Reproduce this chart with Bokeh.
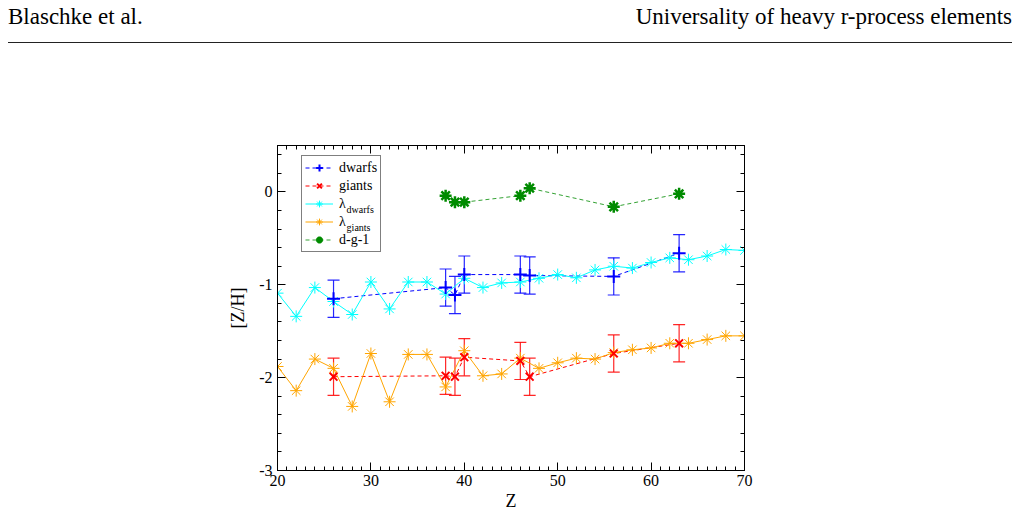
from bokeh.plotting import figure
from bokeh.models import (ColumnDataSource, Whisker, TeeHead, Legend, LegendItem,
                          Label, LinearAxis, SingleIntervalTicker, Range1d, Div,
                          CustomLabelingPolicy)
from bokeh.layouts import column
from bokeh.embed import file_html
from bokeh.resources import INLINE

# Observed abundances (dwarfs / giants) with 1-sigma errors
z_obs = [26, 38, 39, 40, 46, 47, 56, 63]
dwarfs = [-1.15, -1.03, -1.11, -0.89, -0.89, -0.90, -0.91, -0.66]
dwarfs_err = [0.2, 0.2, 0.2, 0.2, 0.2, 0.2, 0.2, 0.2]
giants = [-1.99, -1.98, -1.99, -1.78, -1.82, -1.99, -1.74, -1.63]
giants_err = [0.2, 0.2, 0.2, 0.2, 0.2, 0.2, 0.2, 0.2]

# Model abundance patterns (even Z)
z_lambda = [20, 22, 24, 26, 28, 30, 32, 34, 36, 38, 40, 42, 44, 46, 48,
            50, 52, 54, 56, 58, 60, 62, 64, 66, 68, 70]
lambda_dwarfs = [-1.09, -1.34, -1.03, -1.18, -1.32, -0.97, -1.26, -0.97, -0.97, -1.10,
                 -0.93, -1.03, -0.98, -0.97, -0.93, -0.89, -0.925, -0.84, -0.80, -0.82,
                 -0.76, -0.71, -0.73, -0.69, -0.62, -0.63]
lambda_giants = [-1.88, -2.14, -1.80, -1.90, -2.31, -1.74, -2.26, -1.75, -1.75, -2.10,
                 -1.71, -1.98, -1.96, -1.79, -1.90, -1.84, -1.79, -1.80, -1.73, -1.70,
                 -1.68, -1.63, -1.63, -1.59, -1.55, -1.55]

# Dwarf minus giant difference
z_dg1 = [38, 39, 40, 46, 47, 56, 63]
dg1 = [-0.04, -0.11, -0.11, -0.04, 0.04, -0.16, -0.02]

SERIF = "Liberation Serif"

p = figure(width=1018, height=463, x_range=Range1d(20, 70), y_range=Range1d(-3, 0.5),
           output_backend="svg", toolbar_location=None,
           min_border_left=277, min_border_right=274, min_border_top=95, min_border_bottom=42,
           x_axis_label="Z", y_axis_label="[Z/H]")
p.margin = 0
p.xgrid.grid_line_color = None
p.ygrid.grid_line_color = None
p.outline_line_color = "black"
p.background_fill_color = "white"
p.border_fill_color = "white"

# mirrored axes carry tick marks only
no_labels = CustomLabelingPolicy(code="for (const i of indices) indices.unset(i); return indices")


def style_axis(ax, ticker, show_labels=True):
    ax.ticker = ticker
    ax.axis_line_color = "black"
    ax.major_tick_line_color = "black"
    ax.minor_tick_line_color = "black"
    ax.major_tick_in = 8
    ax.major_tick_out = 0
    ax.minor_tick_in = 4
    ax.minor_tick_out = 0
    ax.major_label_text_font = SERIF
    ax.major_label_text_color = "black"
    ax.axis_label_text_font = SERIF
    ax.axis_label_text_font_style = "normal"
    ax.axis_label_text_color = "black"
    ax.major_label_text_font_size = "16px"
    ax.axis_label_text_font_size = "18px"
    if not show_labels:
        ax.major_label_policy = no_labels


style_axis(p.xaxis[0], SingleIntervalTicker(interval=10, num_minor_ticks=10))
style_axis(p.yaxis[0], SingleIntervalTicker(interval=1, num_minor_ticks=5))
p.xaxis[0].major_label_standoff = 4
p.xaxis[0].axis_label_standoff = 2
p.yaxis[0].major_label_standoff = 5
p.yaxis[0].axis_label_standoff = 8
p.yaxis[0].major_label_overrides = {0: "0", -1: "-1", -2: "-2", -3: "-3"}

top_ax = LinearAxis()
style_axis(top_ax, SingleIntervalTicker(interval=10, num_minor_ticks=10), show_labels=False)
p.add_layout(top_ax, "above")
right_ax = LinearAxis()
style_axis(right_ax, SingleIntervalTicker(interval=1, num_minor_ticks=5), show_labels=False)
p.add_layout(right_ax, "right")

src_d = ColumnDataSource(dict(z=z_obs, v=dwarfs,
                              lo=[v - e for v, e in zip(dwarfs, dwarfs_err)],
                              hi=[v + e for v, e in zip(dwarfs, dwarfs_err)]))
src_g = ColumnDataSource(dict(z=z_obs, v=giants,
                              lo=[v - e for v, e in zip(giants, giants_err)],
                              hi=[v + e for v, e in zip(giants, giants_err)]))

BLUE = "#0000ff"
RED = "#ff0000"
CYAN = "#00ffff"
ORANGE = "#ffa500"
GREEN = "#008b00"

for src, col in ((src_d, BLUE), (src_g, RED)):
    w = Whisker(source=src, base="z", lower="lo", upper="hi", line_color=col,
                line_width=1.2, line_alpha=0.85,
                lower_head=TeeHead(size=12, line_color=col, line_width=1.2, line_alpha=0.85),
                upper_head=TeeHead(size=12, line_color=col, line_width=1.2, line_alpha=0.85))
    p.add_layout(w)

l_d = p.line("z", "v", source=src_d, line_color=BLUE, line_dash="4 3", line_width=1)
l_g = p.line("z", "v", source=src_g, line_color=RED, line_dash="4 3", line_width=1)

l_ld = p.line(z_lambda, lambda_dwarfs, line_color=CYAN, line_width=1)
m_ld = p.scatter(z_lambda, lambda_dwarfs, marker="asterisk", size=12,
                 line_color=CYAN, line_width=1)
l_lg = p.line(z_lambda, lambda_giants, line_color=ORANGE, line_width=1)
m_lg = p.scatter(z_lambda, lambda_giants, marker="asterisk", size=12,
                 line_color=ORANGE, line_width=1)

m_d = p.scatter("z", "v", source=src_d, marker="cross", size=13, line_color=BLUE, line_width=2)
m_g = p.scatter("z", "v", source=src_g, marker="x", size=11, line_color=RED, line_width=2)

l_dg = p.line(z_dg1, dg1, line_color=GREEN, line_dash="4 3", line_width=1, line_alpha=0.8)
m_dg = p.scatter(z_dg1, dg1, marker="asterisk", size=12, line_color=GREEN, line_width=2.5)

legend = Legend(items=[
    LegendItem(label="dwarfs", renderers=[l_d, m_d]),
    LegendItem(label="giants", renderers=[l_g, m_g]),
    LegendItem(label="\u03bb", renderers=[l_ld, m_ld]),
    LegendItem(label="\u03bb", renderers=[l_lg, m_lg]),
    LegendItem(label="d-g-1", renderers=[l_dg, m_dg]),
], location=(24, 218))
legend.border_line_color = "black"
legend.border_line_width = 1
legend.background_fill_alpha = 0
legend.padding = 3
legend.margin = 0
legend.spacing = 1
legend.glyph_width = 28
legend.glyph_height = 17
legend.label_height = 17
legend.label_width = 0
legend.label_standoff = 6
legend.label_text_font = SERIF
legend.label_text_font_size = "14px"
legend.label_text_color = "black"
p.add_layout(legend, "center")

# Subscripts for the lambda entries of the legend
for text, yv in (("dwarfs", -0.19), ("giants", -0.38)):
    p.add_layout(Label(x=27.4, y=yv, text=text, text_font=SERIF, text_font_size="10px",
                       text_baseline="middle", text_align="left", text_color="black"))

header = Div(text="""
<div style="position:relative;width:1018px;height:50px;font-family:'Liberation Serif',serif;font-size:23px;color:#000;line-height:1;">
  <span style="position:absolute;left:8px;top:5px;">Blaschke et al.</span>
  <span style="position:absolute;right:6px;top:5px;">Universality of heavy r-process elements</span>
  <div style="position:absolute;left:8px;right:6px;top:42px;border-top:1px solid #222;"></div>
</div>""", width=1018, height=50, margin=0)

layout = column(header, p, spacing=0, margin=0)

open("out.html", "w").write(file_html(layout, INLINE))
